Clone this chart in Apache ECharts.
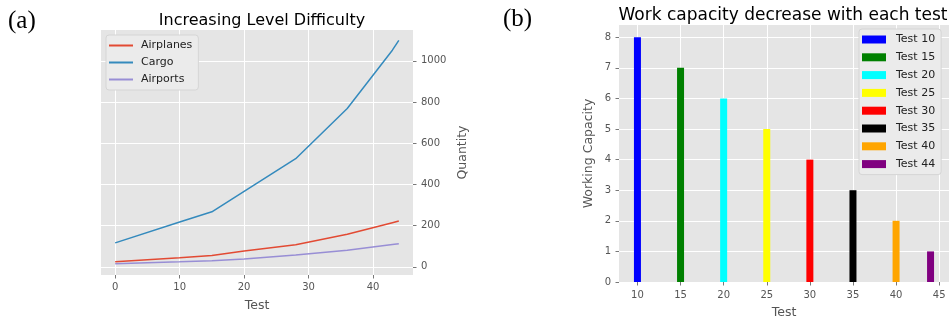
<!DOCTYPE html>
<html>
<head>
<meta charset="utf-8">
<script src="https://cdn.jsdelivr.net/npm/echarts@6/dist/echarts.min.js"></script>
<style>
  html, body { margin: 0; padding: 0; background: #fff; }
  #chart { width: 950px; height: 325px; }
</style>
</head>
<body>
<div id="chart"></div>
<script>
// (a) Increasing Level Difficulty
const testX = [0, 10, 15, 20, 28, 36, 43, 44]
const airplanes = [24, 44, 55, 76, 107, 158, 214, 222]
const cargo = [116, 217, 267, 366, 525, 769, 1052, 1100]
const airports = [15, 24, 29, 38, 57, 80, 108, 112]
const leftXTicks = [0, 10, 20, 30, 40]
const leftYTicks = [0, 200, 400, 600, 800, 1000]

// (b) Work capacity decrease with each test
const barTests = [10, 15, 20, 25, 30, 35, 40, 44]
const barValues = [8, 7, 6, 5, 4, 3, 2, 1]
const barNames = ['Test 10', 'Test 15', 'Test 20', 'Test 25', 'Test 30', 'Test 35', 'Test 40', 'Test 44']
const barColors = ['#0000ff', '#008000', '#00ffff', '#ffff00', '#ff0000', '#000000', '#ffa500', '#800080']
const rightXTicks = [10, 15, 20, 25, 30, 35, 40, 45]
const rightYTicks = [0, 1, 2, 3, 4, 5, 6, 7, 8]

const font = 'DejaVu Sans'
const grey = '#555555'

const pair = (xs, ys) => xs.map((x, i) => [x, ys[i]])

const ticksAt = vals => ({ show: true, length: 3.5, customValues: vals, lineStyle: { color: grey, width: 0.8 } })
const labelsAt = (vals, margin) => ({ color: grey, fontFamily: font, fontSize: 10, margin: margin,
    customValues: vals, formatter: v => String(v) })
const axisCommon = {
    axisLine: { show: false, onZero: false },
    splitLine: { show: true, lineStyle: { color: '#ffffff', width: 1 } },
    nameLocation: 'middle',
    nameTextStyle: { color: grey, fontFamily: font, fontSize: 12.5 },
}

const lineSeries = (name, ys, color) => ({
    name: name,
    type: 'line',
    xAxisIndex: 0,
    yAxisIndex: 0,
    data: pair(testX, ys),
    showSymbol: false,
    lineStyle: { color: color, width: 1.5 },
    itemStyle: { color: color },
})

const barSeries = barNames.map((name, i) => ({
    name: name,
    type: 'bar',
    xAxisIndex: 1,
    yAxisIndex: 1,
    data: [[barTests[i], barValues[i]]],
    barWidth: 7,
    barGap: '-100%',
    itemStyle: { color: barColors[i] },
}))

const chart = echarts.init(document.getElementById('chart'), null, { renderer: 'canvas' })

chart.setOption({
    animation: false,
    textStyle: { fontFamily: font },
    title: [
        { text: 'Increasing Level Difficulty', left: 257, top: 8, textAlign: 'center',
          textStyle: { fontFamily: font, fontSize: 16, fontWeight: 'normal', color: '#000' } },
        { text: 'Work capacity decrease with each test', left: 778, top: 2, textAlign: 'center',
          textStyle: { fontFamily: font, fontSize: 17, fontWeight: 'normal', color: '#000' } },
    ],
    graphic: [
        { type: 'text', left: 8, top: 9, style: { text: '(a)', font: '25px "Liberation Serif"', fill: '#000' } },
        { type: 'text', left: 503, top: 7, style: { text: '(b)', font: '25px "Liberation Serif"', fill: '#000' } },
    ],
    legend: [
        {
            data: ['Airplanes', 'Cargo', 'Airports'],
            orient: 'vertical',
            left: 106, top: 35,
            icon: 'rect', itemWidth: 24, itemHeight: 2, itemGap: 4,
            padding: [4, 6, 4, 3],
            backgroundColor: '#ebebeb', borderColor: '#d5d5d5', borderWidth: 1, borderRadius: 3,
            textStyle: { fontFamily: font, fontSize: 11, color: '#222', lineHeight: 13, padding: [0, 0, 0, 3] },
        },
        {
            data: barNames,
            orient: 'vertical',
            left: 859, top: 29,
            icon: 'rect', itemWidth: 24, itemHeight: 8, itemGap: 4.8,
            padding: [4, 6, 4, 3],
            backgroundColor: '#ebebeb', borderColor: '#d5d5d5', borderWidth: 1, borderRadius: 3,
            textStyle: { fontFamily: font, fontSize: 11, color: '#222', lineHeight: 13, padding: [0, 0, 0, 5] },
        },
    ],
    grid: [
        { left: 101, right: 537, top: 30, bottom: 50, show: true, backgroundColor: '#e5e5e5', borderWidth: 0 },
        { left: 619, right: 1, top: 25, bottom: 43, show: true, backgroundColor: '#e5e5e5', borderWidth: 0 },
    ],
    xAxis: [
        Object.assign({}, axisCommon, {
            type: 'value', gridIndex: 0, min: -2.2, max: 46.2,
            name: 'Test', nameGap: 24,
            axisTick: ticksAt(leftXTicks),
            axisLabel: labelsAt(leftXTicks, 7),
        }),
        Object.assign({}, axisCommon, {
            type: 'value', gridIndex: 1, min: 7.86, max: 46.14, splitNumber: 8,
            name: 'Test', nameGap: 24,
            axisTick: ticksAt(rightXTicks),
            axisLabel: labelsAt(rightXTicks, 8),
        }),
    ],
    yAxis: [
        Object.assign({}, axisCommon, {
            type: 'value', gridIndex: 0, position: 'right', min: -40, max: 1150,
            name: 'Quantity', nameGap: 43, nameRotate: 90,
            axisTick: ticksAt(leftYTicks),
            axisLabel: labelsAt(leftYTicks, 8),
        }),
        Object.assign({}, axisCommon, {
            type: 'value', gridIndex: 1, min: 0, max: 8.4, interval: 1,
            name: 'Working Capacity', nameGap: 24, nameRotate: 90,
            axisTick: ticksAt(rightYTicks),
            axisLabel: labelsAt(rightYTicks, 8),
        }),
    ],
    series: [
        lineSeries('Airplanes', airplanes, '#E24A33'),
        lineSeries('Cargo', cargo, '#348ABD'),
        lineSeries('Airports', airports, '#988ED5'),
    ].concat(barSeries),
})
</script>
</body>
</html>
